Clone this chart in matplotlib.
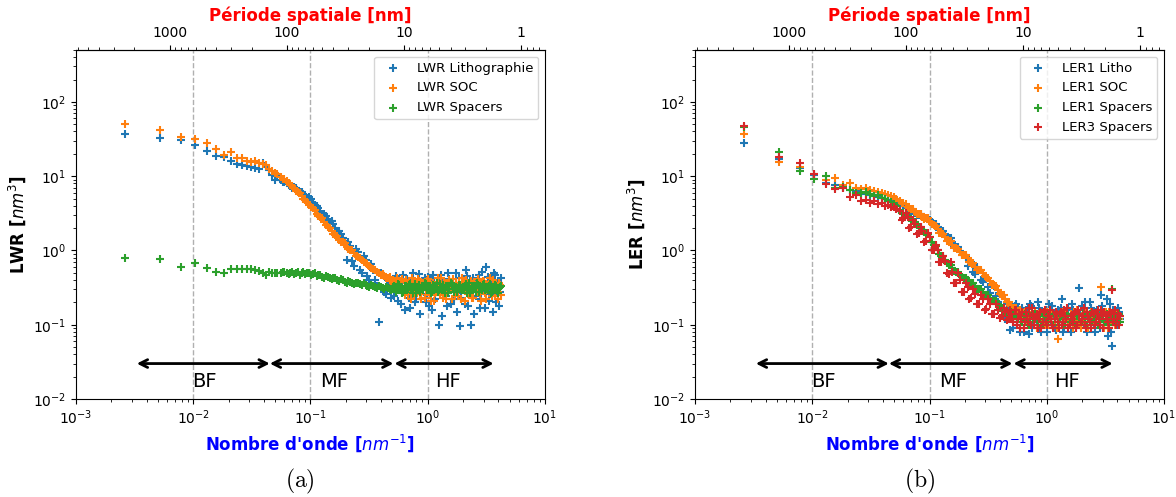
import numpy as np
import matplotlib
matplotlib.use("Agg")
import matplotlib.pyplot as plt

# ---------------- data ----------------
k_low = [0.0026, 0.0052, 0.0078, 0.0104, 0.0130, 0.0156, 0.0182, 0.0208, 0.0234, 0.0260,
         0.0286, 0.0312, 0.0338, 0.0364, 0.0390, 0.0416, 0.0442, 0.0468, 0.0494, 0.0520]
k_mid = [0.056, 0.060, 0.065, 0.070, 0.075, 0.081, 0.087, 0.094, 0.101, 0.109,
         0.117, 0.126, 0.136, 0.146, 0.157, 0.169, 0.182, 0.196, 0.211, 0.227,
         0.245, 0.264, 0.284, 0.306, 0.330, 0.355, 0.383, 0.412, 0.444, 0.478]
k_hf = [0.50, 0.52, 0.545, 0.57, 0.595, 0.62, 0.65, 0.68, 0.71, 0.74,
        0.77, 0.80, 0.84, 0.88, 0.92, 0.96, 1.00, 1.04, 1.09, 1.14,
        1.19, 1.24, 1.29, 1.35, 1.41, 1.47, 1.53, 1.60, 1.67, 1.74,
        1.82, 1.90, 1.98, 2.07, 2.16, 2.25, 2.35, 2.45, 2.56, 2.67,
        2.79, 2.91, 3.04, 3.17, 3.31, 3.45, 3.60, 3.76, 3.92, 4.09, 4.25]
k_mid2 = [0.058, 0.0625, 0.0675, 0.0725, 0.078, 0.084, 0.0905, 0.0975, 0.105, 0.113,
          0.1215, 0.131, 0.141, 0.1515, 0.163, 0.1755, 0.189, 0.2035, 0.219, 0.236,
          0.2545, 0.274, 0.295, 0.318, 0.3425, 0.369, 0.3975, 0.428, 0.461, 0.489]
k_hf2 = [0.51, 0.5325, 0.5575, 0.5825, 0.6075, 0.635, 0.665, 0.695, 0.725, 0.755,
         0.785, 0.82, 0.86, 0.90, 0.94, 0.98, 1.02, 1.065, 1.115, 1.165,
         1.215, 1.265, 1.32, 1.38, 1.44, 1.50, 1.565, 1.635, 1.705, 1.78,
         1.86, 1.94, 2.025, 2.115, 2.205, 2.30, 2.40, 2.505, 2.615, 2.73,
         2.85, 2.975, 3.105, 3.24, 3.38, 3.525, 3.68, 3.84, 4.005, 4.17]
wavenumber = k_low + k_mid + k_hf + k_mid2 + k_hf2

lwr_litho = ([37, 33, 30.5, 26, 21.5, 18.5, 18, 15.8, 14.6, 14.2, 13.6, 13.3, 13.0, 12.6, 15.0, 13.2, 12.0, 10.5, 9.0, 10.0]
             + [8.9, 8.3, 7.9, 7.0, 6.9, 6.1, 5.7, 5.1, 4.9, 4.1, 3.7, 3.1, 2.9, 2.4, 2.3, 1.85, 1.65, 1.35, 1.3, 0.72,
                1.05, 0.55, 0.85, 0.45, 0.65, 0.40, 0.11, 0.46, 0.26, 0.36]
             + [0.38, 0.24, 0.42, 0.30, 0.19, 0.46, 0.28, 0.35, 0.17, 0.40, 0.31, 0.22, 0.48, 0.26, 0.36, 0.20, 0.44,
                0.29, 0.16, 0.38, 0.33, 0.10, 0.47, 0.25, 0.35, 0.18, 0.41, 0.30, 0.22, 0.50, 0.27, 0.095, 0.37, 0.19,
                0.45, 0.32, 0.10, 0.43, 0.24, 0.36, 0.17, 0.52, 0.29, 0.60, 0.21, 0.39, 0.15, 0.47, 0.27, 0.18, 0.42]
             + [8.4, 8.0, 7.3, 7.2, 6.4, 6.2, 5.3, 5.3, 4.4, 4.0, 3.3, 3.1, 2.6, 2.5, 2.0, 1.8, 1.45, 0.75, 1.15, 0.62,
                0.95, 0.50, 0.75, 0.40, 0.55, 0.33, 0.50, 0.28, 0.40, 0.23]
             + [0.30, 0.45, 0.21, 0.36, 0.27, 0.16, 0.41, 0.23, 0.33, 0.50, 0.20, 0.38, 0.14, 0.31, 0.43, 0.25, 0.18,
                0.35, 0.46, 0.22, 0.29, 0.40, 0.13, 0.34, 0.24, 0.49, 0.19, 0.37, 0.28, 0.15, 0.42, 0.23, 0.33, 0.55,
                0.18, 0.27, 0.39, 0.14, 0.31, 0.46, 0.22, 0.35, 0.17, 0.44, 0.26, 0.33, 0.49, 0.20, 0.37, 0.28])
lwr_soc = ([50, 42, 34, 32, 28, 23, 19.5, 21, 17.5, 17.5, 16, 15.5, 15.8, 15, 14.8, 14.2, 12.5, 11.8, 11.2, 10.7]
           + [9.8, 9.2, 8.0, 7.4, 6.4, 5.9, 5.0, 4.5, 3.8, 3.5, 2.9, 2.7, 2.2, 2.0, 1.65, 1.55, 1.3, 1.25, 1.05, 1.0,
              0.85, 0.80, 0.70, 0.66, 0.58, 0.55, 0.49, 0.48, 0.43, 0.44]
           + [0.40, 0.36, 0.42, 0.34, 0.38, 0.30, 0.40, 0.26, 0.35, 0.42, 0.24, 0.33, 0.39, 0.22, 0.36, 0.29, 0.41,
              0.25, 0.34, 0.21, 0.38, 0.30, 0.43, 0.23, 0.35, 0.27, 0.40, 0.22, 0.33, 0.37, 0.24, 0.31, 0.42, 0.21,
              0.36, 0.28, 0.39, 0.23, 0.34, 0.41, 0.26, 0.30, 0.38, 0.22, 0.35, 0.27, 0.40, 0.24, 0.33, 0.37, 0.25]
           + [9.3, 8.5, 7.7, 6.9, 6.1, 5.4, 4.8, 4.1, 3.7, 3.1, 2.8, 2.4, 2.1, 1.8, 1.6, 1.4, 1.28, 1.12, 1.02, 0.92,
              0.82, 0.75, 0.68, 0.61, 0.56, 0.51, 0.47, 0.45, 0.42, 0.39]
           + [0.37, 0.33, 0.39, 0.29, 0.41, 0.25, 0.36, 0.31, 0.22, 0.38, 0.28, 0.41, 0.26, 0.33, 0.23, 0.39, 0.30,
              0.21, 0.36, 0.27, 0.42, 0.25, 0.32, 0.38, 0.22, 0.35, 0.29, 0.41, 0.24, 0.31, 0.37, 0.22, 0.34, 0.40,
              0.26, 0.31, 0.23, 0.38, 0.28, 0.35, 0.21, 0.39, 0.27, 0.33, 0.42, 0.24, 0.30, 0.36, 0.22, 0.34])
lwr_spacers = ([0.78, 0.77, 0.60, 0.68, 0.58, 0.52, 0.49, 0.56, 0.56, 0.56, 0.56, 0.56, 0.55, 0.53, 0.50, 0.46, 0.52, 0.50, 0.49, 0.50]
               + [0.49, 0.51, 0.48, 0.52, 0.50, 0.47, 0.51, 0.49, 0.47, 0.50, 0.46, 0.44, 0.45, 0.42, 0.43, 0.40, 0.41,
                  0.38, 0.39, 0.36, 0.37, 0.35, 0.36, 0.33, 0.34, 0.32, 0.33, 0.31, 0.32, 0.30]
               + [0.30, 0.33, 0.29, 0.34, 0.31, 0.28, 0.33, 0.30, 0.35, 0.29, 0.32, 0.27, 0.34, 0.31, 0.29, 0.35, 0.30,
                  0.33, 0.28, 0.32, 0.36, 0.29, 0.31, 0.34, 0.27, 0.33, 0.30, 0.35, 0.28, 0.32, 0.31, 0.34, 0.29, 0.33,
                  0.27, 0.36, 0.30, 0.32, 0.28, 0.34, 0.31, 0.29, 0.35, 0.30, 0.33, 0.27, 0.32, 0.34, 0.29, 0.31, 0.33]
               + [0.52, 0.49, 0.50, 0.48, 0.52, 0.49, 0.48, 0.50, 0.48, 0.45, 0.47, 0.43, 0.44, 0.41, 0.42, 0.39, 0.40,
                  0.37, 0.38, 0.35, 0.36, 0.34, 0.34, 0.32, 0.33, 0.31, 0.32, 0.30, 0.31, 0.29]
               + [0.32, 0.28, 0.35, 0.30, 0.27, 0.33, 0.29, 0.34, 0.31, 0.27, 0.35, 0.30, 0.28, 0.33, 0.36, 0.29, 0.32,
                  0.27, 0.34, 0.30, 0.28, 0.35, 0.31, 0.29, 0.33, 0.27, 0.36, 0.30, 0.32, 0.28, 0.34, 0.31, 0.29, 0.35,
                  0.30, 0.27, 0.33, 0.31, 0.36, 0.28, 0.32, 0.34, 0.29, 0.31, 0.35, 0.28, 0.30, 0.33, 0.27, 0.32])

ler1_litho = ([28, 17, 13, 10.5, 8.2, 7.6, 7.0, 6.5, 6.3, 6.0, 5.8, 5.6, 5.5, 5.3, 5.1, 5.0, 4.8, 4.6, 4.5, 4.3]
              + [4.2, 4.0, 3.7, 3.4, 3.2, 3.0, 2.85, 2.7, 2.55, 2.3, 2.05, 1.85, 1.65, 1.45, 1.3, 1.12, 0.98, 0.86,
                 0.62, 0.70, 0.48, 0.55, 0.38, 0.43, 0.27, 0.33, 0.20, 0.24, 0.12, 0.17]
              + [0.15, 0.09, 0.19, 0.12, 0.08, 0.17, 0.11, 0.14, 0.075, 0.18, 0.10, 0.13, 0.20, 0.09, 0.15, 0.12,
                 0.08, 0.19, 0.11, 0.14, 0.085, 0.16, 0.12, 0.22, 0.09, 0.13, 0.17, 0.08, 0.16, 0.11, 0.15, 0.31,
                 0.18, 0.10, 0.13, 0.09, 0.20, 0.12, 0.08, 0.16, 0.11, 0.25, 0.09, 0.14, 0.07, 0.19, 0.052, 0.13,
                 0.10, 0.17, 0.12]
              + [4.3, 3.8, 3.6, 3.4, 3.0, 3.05, 2.7, 2.75, 2.4, 2.3, 1.9, 1.8, 1.5, 1.45, 1.15, 1.1, 0.88, 0.82,
                 0.72, 0.52, 0.60, 0.40, 0.45, 0.32, 0.35, 0.24, 0.26, 0.16, 0.19, 0.085]
              + [0.12, 0.18, 0.10, 0.15, 0.13, 0.08, 0.16, 0.12, 0.19, 0.09, 0.14, 0.11, 0.17, 0.08, 0.13, 0.16,
                 0.10, 0.12, 0.18, 0.09, 0.14, 0.11, 0.17, 0.08, 0.15, 0.12, 0.10, 0.19, 0.13, 0.09, 0.16, 0.11,
                 0.14, 0.20, 0.08, 0.12, 0.17, 0.10, 0.15, 0.13, 0.09, 0.18, 0.11, 0.22, 0.14, 0.08, 0.16, 0.12,
                 0.10, 0.15])
ler1_soc = ([37, 15.5, 13.2, 10.7, 9.0, 9.4, 7.5, 8.0, 7.0, 6.8, 6.9, 6.6, 6.4, 6.2, 5.9, 5.7, 5.6, 5.4, 5.2, 5.0]
            + [4.6, 4.3, 3.9, 3.6, 3.3, 3.05, 2.85, 2.7, 2.45, 2.2, 1.95, 1.7, 1.5, 1.35, 1.2, 1.07, 0.96, 0.86,
               0.78, 0.68, 0.60, 0.54, 0.50, 0.44, 0.39, 0.34, 0.29, 0.25, 0.22, 0.20]
            + [0.18, 0.15, 0.17, 0.13, 0.16, 0.12, 0.15, 0.11, 0.14, 0.10, 0.13, 0.15, 0.11, 0.14, 0.12, 0.10,
               0.15, 0.12, 0.13, 0.09, 0.14, 0.065, 0.12, 0.15, 0.10, 0.13, 0.11, 0.14, 0.09, 0.12, 0.16, 0.10,
               0.13, 0.11, 0.15, 0.09, 0.12, 0.14, 0.10, 0.13, 0.11, 0.32, 0.12, 0.15, 0.09, 0.13, 0.11, 0.14,
               0.10, 0.12, 0.13]
            + [4.3, 4.2, 3.6, 3.6, 3.1, 3.05, 2.65, 2.7, 2.25, 2.15, 1.72, 1.68, 1.35, 1.33, 1.07, 1.06, 0.86, 0.87,
               0.69, 0.67, 0.54, 0.55, 0.45, 0.43, 0.34, 0.33, 0.26, 0.25, 0.20, 0.185]
            + [0.16, 0.17, 0.14, 0.15, 0.13, 0.14, 0.12, 0.13, 0.10, 0.15, 0.12, 0.09, 0.14, 0.11, 0.13, 0.15,
               0.10, 0.12, 0.14, 0.11, 0.09, 0.13, 0.15, 0.11, 0.12, 0.14, 0.10, 0.13, 0.15, 0.11, 0.12, 0.09,
               0.14, 0.12, 0.10, 0.13, 0.15, 0.11, 0.12, 0.14, 0.10, 0.13, 0.09, 0.12, 0.15, 0.11, 0.13, 0.10,
               0.14, 0.12])
ler1_spacers = ([46, 21, 11.9, 9.2, 10, 7.0, 7.2, 6.6, 6.0, 5.9, 6.1, 5.7, 5.4, 5.5, 5.1, 4.9, 4.7, 4.5, 4.2, 4.0]
                + [3.4, 3.2, 2.9, 2.6, 2.4, 2.1, 1.9, 1.7, 1.5, 1.2, 1.0, 0.85, 0.74, 0.65, 0.58, 0.52, 0.47, 0.43,
                   0.40, 0.37, 0.33, 0.30, 0.28, 0.25, 0.23, 0.21, 0.19, 0.17, 0.155, 0.14]
                + [0.15, 0.13, 0.14, 0.12, 0.13, 0.11, 0.14, 0.12, 0.10, 0.13, 0.12, 0.14, 0.11, 0.12, 0.10, 0.13,
                   0.11, 0.14, 0.12, 0.10, 0.13, 0.11, 0.12, 0.14, 0.10, 0.12, 0.13, 0.11, 0.12, 0.10, 0.14, 0.12,
                   0.11, 0.13, 0.10, 0.12, 0.14, 0.11, 0.12, 0.13, 0.10, 0.12, 0.14, 0.11, 0.13, 0.12, 0.30, 0.11,
                   0.13, 0.12, 0.11]
                + [3.2, 3.1, 2.7, 2.55, 2.2, 2.05, 1.75, 1.65, 1.3, 1.15, 0.9, 0.83, 0.68, 0.64, 0.53, 0.52, 0.44,
                   0.42, 0.37, 0.36, 0.30, 0.30, 0.25, 0.25, 0.21, 0.21, 0.17, 0.17, 0.14, 0.145]
                + [0.13, 0.14, 0.12, 0.13, 0.11, 0.12, 0.13, 0.10, 0.12, 0.14, 0.11, 0.13, 0.12, 0.10, 0.14, 0.12,
                   0.11, 0.13, 0.10, 0.12, 0.14, 0.11, 0.13, 0.12, 0.10, 0.14, 0.11, 0.13, 0.12, 0.10, 0.13, 0.11,
                   0.14, 0.12, 0.10, 0.13, 0.11, 0.12, 0.14, 0.10, 0.13, 0.12, 0.11, 0.14, 0.10, 0.12, 0.13, 0.11,
                   0.12, 0.14])
ler3_spacers = ([48, 18.3, 15, 10.7, 7.9, 6.8, 6.9, 5.3, 5.5, 4.6, 4.8, 4.3, 4.6, 4.2, 4.4, 4.0, 4.1, 3.8, 3.9, 3.6]
                + [3.4, 2.7, 2.8, 2.1, 2.3, 1.7, 1.8, 1.35, 1.5, 1.0, 1.0, 0.7, 0.72, 0.48, 0.52, 0.36, 0.40, 0.28,
                   0.32, 0.23, 0.26, 0.19, 0.22, 0.165, 0.19, 0.14, 0.16, 0.13, 0.15, 0.12]
                + [0.14, 0.11, 0.16, 0.12, 0.09, 0.15, 0.11, 0.13, 0.17, 0.10, 0.14, 0.12, 0.09, 0.15, 0.11, 0.16,
                   0.10, 0.13, 0.12, 0.09, 0.15, 0.11, 0.14, 0.10, 0.16, 0.12, 0.09, 0.13, 0.11, 0.15, 0.10, 0.14,
                   0.12, 0.17, 0.09, 0.13, 0.11, 0.15, 0.10, 0.14, 0.12, 0.16, 0.09, 0.13, 0.11, 0.15, 0.29, 0.12,
                   0.10, 0.14, 0.13]
                + [2.6, 3.2, 2.0, 2.6, 1.65, 2.1, 1.3, 1.7, 1.0, 1.2, 0.7, 0.85, 0.5, 0.7, 0.36, 0.5, 0.28, 0.36,
                   0.22, 0.30, 0.19, 0.25, 0.16, 0.22, 0.14, 0.19, 0.125, 0.17, 0.115, 0.16]
                + [0.12, 0.16, 0.10, 0.14, 0.12, 0.09, 0.15, 0.11, 0.13, 0.17, 0.10, 0.14, 0.12, 0.09, 0.15, 0.11,
                   0.13, 0.16, 0.10, 0.12, 0.14, 0.09, 0.15, 0.11, 0.13, 0.17, 0.10, 0.12, 0.14, 0.09, 0.16, 0.11,
                   0.13, 0.10, 0.15, 0.12, 0.09, 0.14, 0.11, 0.16, 0.10, 0.13, 0.15, 0.12, 0.09, 0.14, 0.11, 0.16,
                   0.12, 0.10])

labels_a = ["LWR Lithographie", "LWR SOC", "LWR Spacers"]
labels_b = ["LER1 Litho", "LER1 SOC", "LER1 Spacers", "LER3 Spacers"]
band_names = ["BF", "MF", "HF"]
band_edges = [(0.0033, 0.045), (0.045, 0.51), (0.52, 3.65)]
band_text_x = [0.0125, 0.16, 1.5]
period_ticks = [1000, 100, 10, 1]
colors = ["#1f77b4", "#ff7f0e", "#2ca02c", "#d62728"]


def period(x):
    x = np.asarray(x, dtype=float)
    with np.errstate(divide="ignore", invalid="ignore"):
        return 2 * np.pi / x


fig = plt.figure(figsize=(11.76, 4.97), dpi=100)
axA = fig.add_axes([0.0646, 0.1972, 0.3988, 0.7022])
axB = fig.add_axes([0.5910, 0.1972, 0.3988, 0.7022])


def draw(ax, series, labels, ylabel):
    for y, lab, c in zip(series, labels, colors):
        assert len(y) == len(wavenumber), (lab, len(y), len(wavenumber))
        ax.scatter(wavenumber, y, marker="+", color=c, label=lab, s=40, linewidths=1.5, zorder=3)
    ax.set_xscale("log")
    ax.set_yscale("log")
    ax.set_xlim(1e-3, 1e1)
    ax.set_ylim(1e-2, 5e2)
    for v in (0.01, 0.1, 1.0):
        ax.axvline(v, color="#b0b0b0", ls="--", lw=1, zorder=1)
    for (a, b), name, tx in zip(band_edges, band_names, band_text_x):
        ax.annotate("", xy=(b, 0.03), xytext=(a, 0.03),
                    arrowprops=dict(arrowstyle="<->", lw=2, color="black",
                                    shrinkA=0, shrinkB=0, mutation_scale=14))
        ax.text(tx, 0.0172, name, ha="center", va="center", fontsize=14)
    ax.set_xlabel("Nombre d'onde [$nm^{-1}$]", color="blue", fontweight="bold", fontsize=12)
    ax.set_ylabel(ylabel, fontweight="bold", fontsize=12)
    sec = ax.secondary_xaxis("top", functions=(period, period))
    sec.set_xticks(period_ticks)
    sec.set_xticklabels([str(p) for p in period_ticks])
    sec.set_xlabel("Période spatiale [nm]", color="red", fontweight="bold", fontsize=12)
    ax.legend(loc="upper right", fontsize=9.5)


draw(axA, [lwr_litho, lwr_soc, lwr_spacers], labels_a, "LWR [$nm^3$]")
draw(axB, [ler1_litho, ler1_soc, ler1_spacers, ler3_spacers], labels_b, "LER [$nm^3$]")

fig.text(0.255, 0.032, r"$\mathrm{(a)}$", ha="center", va="center", fontsize=17, math_fontfamily="cm")
fig.text(0.782, 0.032, r"$\mathrm{(b)}$", ha="center", va="center", fontsize=17, math_fontfamily="cm")

fig.savefig("out.png", dpi=100)
